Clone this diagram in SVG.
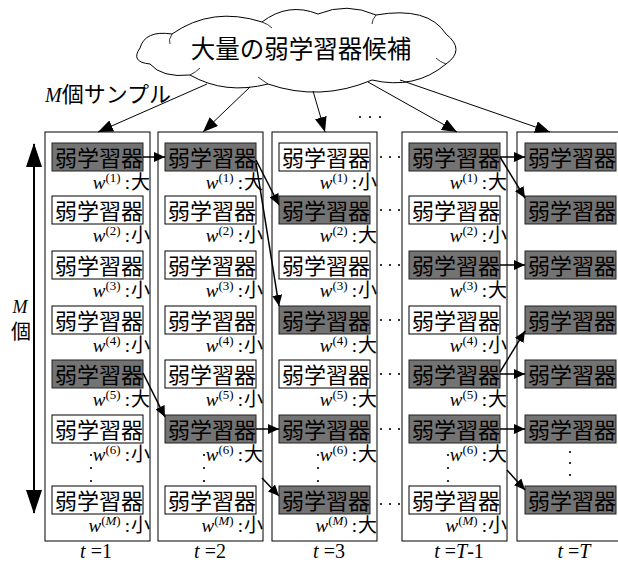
<svg xmlns="http://www.w3.org/2000/svg" width="618" height="563" viewBox="0 0 618 563">
<style>
.frame{fill:#fff;stroke:#000;stroke-width:1}
.wb{fill:#fff;stroke:#000;stroke-width:1}
.gb{fill:#737373;stroke:#222;stroke-width:1}
.bt{font-family:"Noto Sans CJK JP","Noto Sans CJK SC",sans-serif;font-size:22px;text-anchor:middle;fill:#000}
.lbl{font-family:"Liberation Serif",serif;font-size:19px;text-anchor:end;fill:#000}
.it{font-style:italic}
.sup{font-size:13px}
.cj{font-family:"Noto Sans CJK JP","Noto Sans CJK SC",sans-serif;font-size:19px}
.tl{font-family:"Liberation Serif",serif;font-size:20px;text-anchor:middle}
.ln{stroke:#000;stroke-width:1.5;fill:none;marker-end:url(#ah)}
.tln{stroke:#000;stroke-width:1;fill:none;marker-end:url(#ah2)}
.dot{fill:#000}
</style>
<defs>
<marker id="ah" markerUnits="userSpaceOnUse" markerWidth="12" markerHeight="10" refX="11" refY="5" orient="auto"><path d="M0,0 L11,5 L0,10 z" fill="#000"/></marker>
<marker id="ah2" markerUnits="userSpaceOnUse" markerWidth="16" markerHeight="12" refX="15" refY="6" orient="auto"><path d="M0,0 L15,6 L0,12 z" fill="#000"/></marker>
<marker id="big" markerUnits="userSpaceOnUse" markerWidth="24" markerHeight="16" refX="23" refY="8" orient="auto-start-reverse"><path d="M0,0 L24,8 L0,16 z" fill="#000"/></marker>
</defs>
<rect width="618" height="563" fill="#fff"/>

<!-- column frames -->
<g id="col1"><rect class="frame" x="45" y="132" width="105" height="409"/></g>
<g id="col2"><rect class="frame" x="158" y="132" width="105" height="409"/></g>
<g id="col3"><rect class="frame" x="272" y="132" width="105" height="409"/></g>
<g id="col4"><rect class="frame" x="402" y="132" width="105" height="409"/></g>
<g id="col5"><rect class="frame" x="517" y="132" width="120" height="409"/></g>

<!-- cloud -->
<g id="cloud">
<path d="M140,48 Q145,30 172,34 Q212,6 262,22 Q288,2 318,14 Q347,2 376,15 Q428,6 446,34 Q466,50 446,64 Q415,90 372,80 Q320,102 268,84 Q225,95 190,75 Q162,78 150,64 Q130,62 140,48 Z" fill="#fff" stroke="#000" stroke-width="1"/>
<path d="M172,34 Q168,40 170,44 M262,22 Q268,24 272,28 M376,15 Q372,20 372,24 M446,64 Q440,62 436,58 M268,84 Q262,80 258,77 M190,75 Q196,72 200,68" fill="none" stroke="#000" stroke-width="0.8"/>
<text x="301" y="58" font-family="'Noto Sans CJK JP','Noto Sans CJK SC',sans-serif" font-size="24.5" text-anchor="middle">大量の弱学習器候補</text>
</g>

<g id="sample-label"><text x="45" y="102" font-family="'Liberation Serif',serif" font-size="20"><tspan font-style="italic">M</tspan><tspan font-family="'Noto Sans CJK JP','Noto Sans CJK SC',sans-serif" font-size="22">個サンプル</tspan></text></g>

<g id="m-axis">
<line x1="34" y1="144" x2="34" y2="513" stroke="#000" stroke-width="2" marker-start="url(#big)" marker-end="url(#big)"/>
<text x="20" y="313" font-family="'Liberation Serif',serif" font-size="18" font-style="italic" text-anchor="middle">M</text>
<text x="21" y="339" font-family="'Noto Sans CJK JP','Noto Sans CJK SC',sans-serif" font-size="20" text-anchor="middle">個</text>
</g>

<!-- column 1 boxes -->
<g id="c1r1"><rect class="gb" x="52" y="143" width="91" height="28"/><text class="bt" x="99" y="165.5">弱学習器</text>
<text class="lbl" x="150" y="189"><tspan class="it">w</tspan><tspan class="sup" dy="-7">(1)</tspan><tspan dy="7" dx="4">:</tspan><tspan class="cj" dx="1">大</tspan></text></g>
<g id="c1r2"><rect class="wb" x="52" y="196" width="91" height="28"/><text class="bt" x="99" y="218.5">弱学習器</text>
<text class="lbl" x="150" y="242"><tspan class="it">w</tspan><tspan class="sup" dy="-7">(2)</tspan><tspan dy="7" dx="4">:</tspan><tspan class="cj" dx="1">小</tspan></text></g>
<g id="c1r3"><rect class="wb" x="52" y="251" width="91" height="28"/><text class="bt" x="99" y="273.5">弱学習器</text>
<text class="lbl" x="150" y="297"><tspan class="it">w</tspan><tspan class="sup" dy="-7">(3)</tspan><tspan dy="7" dx="4">:</tspan><tspan class="cj" dx="1">小</tspan></text></g>
<g id="c1r4"><rect class="wb" x="52" y="306" width="91" height="28"/><text class="bt" x="99" y="328.5">弱学習器</text>
<text class="lbl" x="150" y="352"><tspan class="it">w</tspan><tspan class="sup" dy="-7">(4)</tspan><tspan dy="7" dx="4">:</tspan><tspan class="cj" dx="1">小</tspan></text></g>
<g id="c1r5"><rect class="gb" x="52" y="360" width="91" height="28"/><text class="bt" x="99" y="382.5">弱学習器</text>
<text class="lbl" x="150" y="406"><tspan class="it">w</tspan><tspan class="sup" dy="-7">(5)</tspan><tspan dy="7" dx="4">:</tspan><tspan class="cj" dx="1">大</tspan></text></g>
<g id="c1r6"><rect class="wb" x="52" y="415" width="91" height="28"/><text class="bt" x="99" y="437.5">弱学習器</text>
<text class="lbl" x="150" y="461"><tspan class="it">w</tspan><tspan class="sup" dy="-7">(6)</tspan><tspan dy="7" dx="4">:</tspan><tspan class="cj" dx="1">小</tspan></text></g>
<g id="c1rM"><rect class="wb" x="52" y="486" width="91" height="28"/><text class="bt" x="99" y="508.5">弱学習器</text>
<text class="lbl" x="150" y="532"><tspan class="it">w</tspan><tspan class="sup" dy="-7">(</tspan><tspan class="sup it">M</tspan><tspan class="sup">)</tspan><tspan dy="7" dx="4">:</tspan><tspan class="cj" dx="1">小</tspan></text></g>

<!-- column 2 boxes -->
<g id="c2r1"><rect class="gb" x="165" y="143" width="91" height="28"/><text class="bt" x="212" y="165.5">弱学習器</text>
<text class="lbl" x="263" y="189"><tspan class="it">w</tspan><tspan class="sup" dy="-7">(1)</tspan><tspan dy="7" dx="4">:</tspan><tspan class="cj" dx="1">大</tspan></text></g>
<g id="c2r2"><rect class="wb" x="165" y="196" width="91" height="28"/><text class="bt" x="212" y="218.5">弱学習器</text>
<text class="lbl" x="263" y="242"><tspan class="it">w</tspan><tspan class="sup" dy="-7">(2)</tspan><tspan dy="7" dx="4">:</tspan><tspan class="cj" dx="1">小</tspan></text></g>
<g id="c2r3"><rect class="wb" x="165" y="251" width="91" height="28"/><text class="bt" x="212" y="273.5">弱学習器</text>
<text class="lbl" x="263" y="297"><tspan class="it">w</tspan><tspan class="sup" dy="-7">(3)</tspan><tspan dy="7" dx="4">:</tspan><tspan class="cj" dx="1">小</tspan></text></g>
<g id="c2r4"><rect class="wb" x="165" y="306" width="91" height="28"/><text class="bt" x="212" y="328.5">弱学習器</text>
<text class="lbl" x="263" y="352"><tspan class="it">w</tspan><tspan class="sup" dy="-7">(4)</tspan><tspan dy="7" dx="4">:</tspan><tspan class="cj" dx="1">小</tspan></text></g>
<g id="c2r5"><rect class="wb" x="165" y="360" width="91" height="28"/><text class="bt" x="212" y="382.5">弱学習器</text>
<text class="lbl" x="263" y="406"><tspan class="it">w</tspan><tspan class="sup" dy="-7">(5)</tspan><tspan dy="7" dx="4">:</tspan><tspan class="cj" dx="1">小</tspan></text></g>
<g id="c2r6"><rect class="gb" x="165" y="415" width="91" height="28"/><text class="bt" x="212" y="437.5">弱学習器</text>
<text class="lbl" x="263" y="461"><tspan class="it">w</tspan><tspan class="sup" dy="-7">(6)</tspan><tspan dy="7" dx="4">:</tspan><tspan class="cj" dx="1">大</tspan></text></g>
<g id="c2rM"><rect class="wb" x="165" y="486" width="91" height="28"/><text class="bt" x="212" y="508.5">弱学習器</text>
<text class="lbl" x="263" y="532"><tspan class="it">w</tspan><tspan class="sup" dy="-7">(</tspan><tspan class="sup it">M</tspan><tspan class="sup">)</tspan><tspan dy="7" dx="4">:</tspan><tspan class="cj" dx="1">小</tspan></text></g>

<!-- column 3 boxes -->
<g id="c3r1"><rect class="wb" x="279" y="143" width="91" height="28"/><text class="bt" x="326" y="165.5">弱学習器</text>
<text class="lbl" x="377" y="189"><tspan class="it">w</tspan><tspan class="sup" dy="-7">(1)</tspan><tspan dy="7" dx="4">:</tspan><tspan class="cj" dx="1">小</tspan></text></g>
<g id="c3r2"><rect class="gb" x="279" y="196" width="91" height="28"/><text class="bt" x="326" y="218.5">弱学習器</text>
<text class="lbl" x="377" y="242"><tspan class="it">w</tspan><tspan class="sup" dy="-7">(2)</tspan><tspan dy="7" dx="4">:</tspan><tspan class="cj" dx="1">大</tspan></text></g>
<g id="c3r3"><rect class="wb" x="279" y="251" width="91" height="28"/><text class="bt" x="326" y="273.5">弱学習器</text>
<text class="lbl" x="377" y="297"><tspan class="it">w</tspan><tspan class="sup" dy="-7">(3)</tspan><tspan dy="7" dx="4">:</tspan><tspan class="cj" dx="1">小</tspan></text></g>
<g id="c3r4"><rect class="gb" x="279" y="306" width="91" height="28"/><text class="bt" x="326" y="328.5">弱学習器</text>
<text class="lbl" x="377" y="352"><tspan class="it">w</tspan><tspan class="sup" dy="-7">(4)</tspan><tspan dy="7" dx="4">:</tspan><tspan class="cj" dx="1">大</tspan></text></g>
<g id="c3r5"><rect class="wb" x="279" y="360" width="91" height="28"/><text class="bt" x="326" y="382.5">弱学習器</text>
<text class="lbl" x="377" y="406"><tspan class="it">w</tspan><tspan class="sup" dy="-7">(5)</tspan><tspan dy="7" dx="4">:</tspan><tspan class="cj" dx="1">大</tspan></text></g>
<g id="c3r6"><rect class="gb" x="279" y="415" width="91" height="28"/><text class="bt" x="326" y="437.5">弱学習器</text>
<text class="lbl" x="377" y="461"><tspan class="it">w</tspan><tspan class="sup" dy="-7">(6)</tspan><tspan dy="7" dx="4">:</tspan><tspan class="cj" dx="1">大</tspan></text></g>
<g id="c3rM"><rect class="gb" x="279" y="486" width="91" height="28"/><text class="bt" x="326" y="508.5">弱学習器</text>
<text class="lbl" x="377" y="532"><tspan class="it">w</tspan><tspan class="sup" dy="-7">(</tspan><tspan class="sup it">M</tspan><tspan class="sup">)</tspan><tspan dy="7" dx="4">:</tspan><tspan class="cj" dx="1">大</tspan></text></g>

<!-- column 4 boxes -->
<g id="c4r1"><rect class="gb" x="409" y="143" width="91" height="28"/><text class="bt" x="456" y="165.5">弱学習器</text>
<text class="lbl" x="507" y="189"><tspan class="it">w</tspan><tspan class="sup" dy="-7">(1)</tspan><tspan dy="7" dx="4">:</tspan><tspan class="cj" dx="1">大</tspan></text></g>
<g id="c4r2"><rect class="wb" x="409" y="196" width="91" height="28"/><text class="bt" x="456" y="218.5">弱学習器</text>
<text class="lbl" x="507" y="242"><tspan class="it">w</tspan><tspan class="sup" dy="-7">(2)</tspan><tspan dy="7" dx="4">:</tspan><tspan class="cj" dx="1">小</tspan></text></g>
<g id="c4r3"><rect class="gb" x="409" y="251" width="91" height="28"/><text class="bt" x="456" y="273.5">弱学習器</text>
<text class="lbl" x="507" y="297"><tspan class="it">w</tspan><tspan class="sup" dy="-7">(3)</tspan><tspan dy="7" dx="4">:</tspan><tspan class="cj" dx="1">大</tspan></text></g>
<g id="c4r4"><rect class="wb" x="409" y="306" width="91" height="28"/><text class="bt" x="456" y="328.5">弱学習器</text>
<text class="lbl" x="507" y="352"><tspan class="it">w</tspan><tspan class="sup" dy="-7">(4)</tspan><tspan dy="7" dx="4">:</tspan><tspan class="cj" dx="1">小</tspan></text></g>
<g id="c4r5"><rect class="gb" x="409" y="360" width="91" height="28"/><text class="bt" x="456" y="382.5">弱学習器</text>
<text class="lbl" x="507" y="406"><tspan class="it">w</tspan><tspan class="sup" dy="-7">(5)</tspan><tspan dy="7" dx="4">:</tspan><tspan class="cj" dx="1">大</tspan></text></g>
<g id="c4r6"><rect class="gb" x="409" y="415" width="91" height="28"/><text class="bt" x="456" y="437.5">弱学習器</text>
<text class="lbl" x="507" y="461"><tspan class="it">w</tspan><tspan class="sup" dy="-7">(6)</tspan><tspan dy="7" dx="4">:</tspan><tspan class="cj" dx="1">大</tspan></text></g>
<g id="c4rM"><rect class="wb" x="409" y="486" width="91" height="28"/><text class="bt" x="456" y="508.5">弱学習器</text>
<text class="lbl" x="507" y="532"><tspan class="it">w</tspan><tspan class="sup" dy="-7">(</tspan><tspan class="sup it">M</tspan><tspan class="sup">)</tspan><tspan dy="7" dx="4">:</tspan><tspan class="cj" dx="1">小</tspan></text></g>

<!-- column 5 boxes -->
<g id="c5r1"><rect class="gb" x="525" y="143" width="91" height="28"/><text class="bt" x="572" y="165.5">弱学習器</text></g>
<g id="c5r2"><rect class="gb" x="525" y="196" width="91" height="28"/><text class="bt" x="572" y="218.5">弱学習器</text></g>
<g id="c5r3"><rect class="gb" x="525" y="251" width="91" height="28"/><text class="bt" x="572" y="273.5">弱学習器</text></g>
<g id="c5r4"><rect class="gb" x="525" y="306" width="91" height="28"/><text class="bt" x="572" y="328.5">弱学習器</text></g>
<g id="c5r5"><rect class="gb" x="525" y="360" width="91" height="28"/><text class="bt" x="572" y="382.5">弱学習器</text></g>
<g id="c5r6"><rect class="gb" x="525" y="415" width="91" height="28"/><text class="bt" x="572" y="437.5">弱学習器</text></g>
<g id="c5rM"><rect class="gb" x="525" y="486" width="91" height="28"/><text class="bt" x="572" y="508.5">弱学習器</text></g>

<!-- dots -->
<g id="dots">
<circle class="dot" cx="91" cy="455" r="1.1"/><circle class="dot" cx="91" cy="468" r="1.1"/><circle class="dot" cx="91" cy="481" r="1.1"/>
<circle class="dot" cx="204" cy="455" r="1.1"/><circle class="dot" cx="204" cy="468" r="1.1"/><circle class="dot" cx="204" cy="481" r="1.1"/>
<circle class="dot" cx="318" cy="455" r="1.1"/><circle class="dot" cx="318" cy="468" r="1.1"/><circle class="dot" cx="318" cy="481" r="1.1"/>
<circle class="dot" cx="448" cy="455" r="1.1"/><circle class="dot" cx="448" cy="468" r="1.1"/><circle class="dot" cx="448" cy="481" r="1.1"/>
<circle class="dot" cx="570" cy="452" r="1.1"/><circle class="dot" cx="570" cy="463" r="1.1"/><circle class="dot" cx="570" cy="475" r="1.1"/>
<circle class="dot" cx="360" cy="117" r="1.1"/><circle class="dot" cx="370" cy="117" r="1.1"/><circle class="dot" cx="380" cy="117" r="1.1"/>
<circle class="dot" cx="381" cy="157" r="1.1"/><circle class="dot" cx="390" cy="157" r="1.1"/><circle class="dot" cx="399" cy="157" r="1.1"/>
<circle class="dot" cx="381" cy="210" r="1.1"/><circle class="dot" cx="390" cy="210" r="1.1"/><circle class="dot" cx="399" cy="210" r="1.1"/>
<circle class="dot" cx="381" cy="265" r="1.1"/><circle class="dot" cx="390" cy="265" r="1.1"/><circle class="dot" cx="399" cy="265" r="1.1"/>
<circle class="dot" cx="381" cy="320" r="1.1"/><circle class="dot" cx="390" cy="320" r="1.1"/><circle class="dot" cx="399" cy="320" r="1.1"/>
<circle class="dot" cx="381" cy="374" r="1.1"/><circle class="dot" cx="390" cy="374" r="1.1"/><circle class="dot" cx="399" cy="374" r="1.1"/>
<circle class="dot" cx="381" cy="429" r="1.1"/><circle class="dot" cx="390" cy="429" r="1.1"/><circle class="dot" cx="399" cy="429" r="1.1"/>
<circle class="dot" cx="381" cy="504" r="1.1"/><circle class="dot" cx="390" cy="504" r="1.1"/><circle class="dot" cx="399" cy="504" r="1.1"/>
</g>

<!-- connectors -->
<g id="connectors">
<line class="tln" x1="207" y1="84" x2="98" y2="132"/>
<line class="tln" x1="250" y1="87" x2="203" y2="132"/>
<line class="tln" x1="313" y1="91" x2="325" y2="132"/>
<line class="tln" x1="368" y1="82" x2="457" y2="132"/>
<line class="tln" x1="400" y1="80" x2="550" y2="132"/>
<line class="ln" x1="143" y1="157" x2="165" y2="157"/>
<line class="ln" x1="143" y1="373" x2="165" y2="417"/>
<line class="ln" x1="256" y1="160" x2="279" y2="205"/>
<line class="ln" x1="256" y1="163" x2="279" y2="306"/>
<line class="ln" x1="256" y1="429" x2="279" y2="429"/>
<line class="ln" x1="262" y1="478" x2="279" y2="496"/>
<line class="ln" x1="500" y1="157" x2="525" y2="157"/>
<line class="ln" x1="500" y1="157" x2="525" y2="198"/>
<line class="ln" x1="500" y1="265" x2="525" y2="265"/>
<line class="ln" x1="500" y1="372" x2="525" y2="331"/>
<line class="ln" x1="500" y1="374" x2="525" y2="374"/>
<line class="ln" x1="500" y1="429" x2="525" y2="429"/>
<line class="ln" x1="507" y1="470" x2="525" y2="490"/>
</g>

<!-- time labels -->
<g id="tlabels">
<text class="tl" x="96" y="558"><tspan font-style="italic">t</tspan> =1</text>
<text class="tl" x="210" y="558"><tspan font-style="italic">t</tspan> =2</text>
<text class="tl" x="329" y="558"><tspan font-style="italic">t</tspan> =3</text>
<text class="tl" x="459" y="558"><tspan font-style="italic">t</tspan> =<tspan font-style="italic">T</tspan>-1</text>
<text class="tl" x="574" y="558"><tspan font-style="italic">t</tspan> =<tspan font-style="italic">T</tspan></text>
</g>
</svg>
